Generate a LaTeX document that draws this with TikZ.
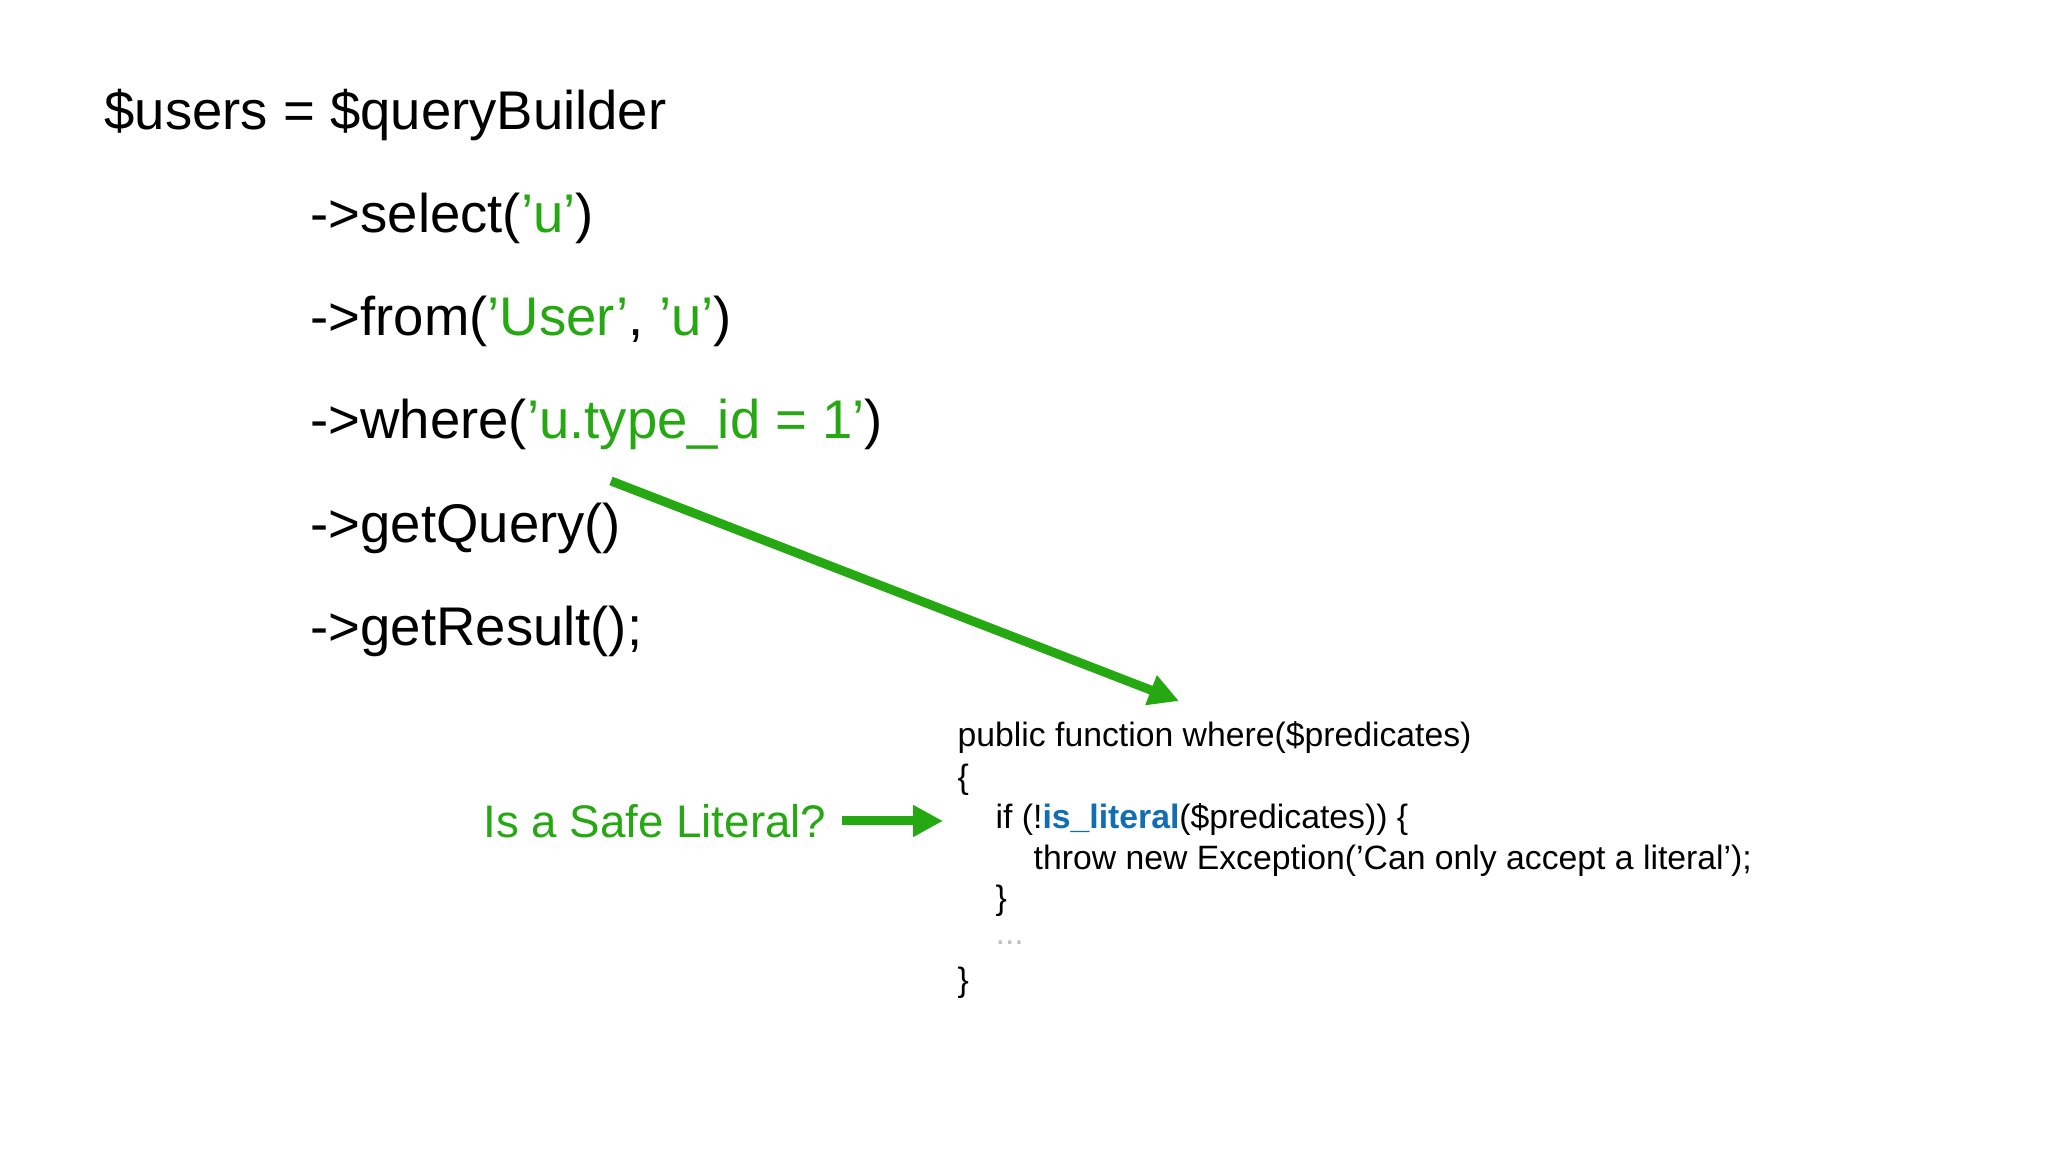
\documentclass[tikz,border=0pt]{standalone}
\usepackage{fontspec}
\setmainfont{Liberation Sans}
\usetikzlibrary{arrows.meta}
\definecolor{grn}{RGB}{38,168,18}
\definecolor{blu}{RGB}{18,110,180}
\begin{document}
\begin{tikzpicture}[x=1cm,y=1cm,
  big/.style={anchor=west,inner sep=0pt,font=\fontsize{15.5pt}{18pt}\selectfont},
  code/.style={anchor=west,inner sep=0pt,font=\fontsize{9.6pt}{11pt}\selectfont},
  garrow/.style={draw=grn,line width=0.09cm,-{Triangle[length=0.3cm,width=0.3cm]}}]
\useasboundingbox[fill=white] (0,0) rectangle (20.48,11.52);
\node[big] (l1) at (1.04,10.37) {\$users = \$queryBuilder};
\node[big] (l2) at (3.10,9.34) {->select(\textcolor{grn}{'u'})};
\node[big] (l3) at (3.10,8.31) {->from(\textcolor{grn}{'User'}, \textcolor{grn}{'u'})};
\node[big] (l4) at (3.10,7.28) {->where(\textcolor{grn}{'u.type\_id = 1'})};
\node[big] (l5) at (3.10,6.24) {->getQuery()};
\node[big] (l6) at (3.10,5.21) {->getResult();};
\node[code] (c1) at (9.57,4.14) {public function where(\$predicates)};
\node[code] (c2) at (9.57,3.72) {\{};
\node[code] (c3) at (9.95,3.32) {if (!\textcolor{blu}{\bfseries is\_literal}(\$predicates)) \{};
\node[code] (c4) at (10.33,2.91) {throw new Exception('Can only accept a literal');};
\node[code] (c5) at (9.95,2.51) {\}};
\node[code,text=black!25] (c6) at (9.95,2.09) {...};
\node[code] (c7) at (9.57,1.69) {\}};
\node[anchor=east,inner sep=0pt,text=grn,font=\fontsize{13pt}{15pt}\selectfont] (q) at (8.27,3.31) {Is a Safe Literal?};
\coordinate (a1s) at (6.11,6.71);
\coordinate (a1e) at (11.79,4.51);
\draw[garrow] (a1s) -- (a1e);
\coordinate (a2s) at (8.42,3.31);
\coordinate (a2e) at (9.43,3.31);
\draw[garrow] (a2s) -- (a2e);
\end{tikzpicture}
\end{document}
